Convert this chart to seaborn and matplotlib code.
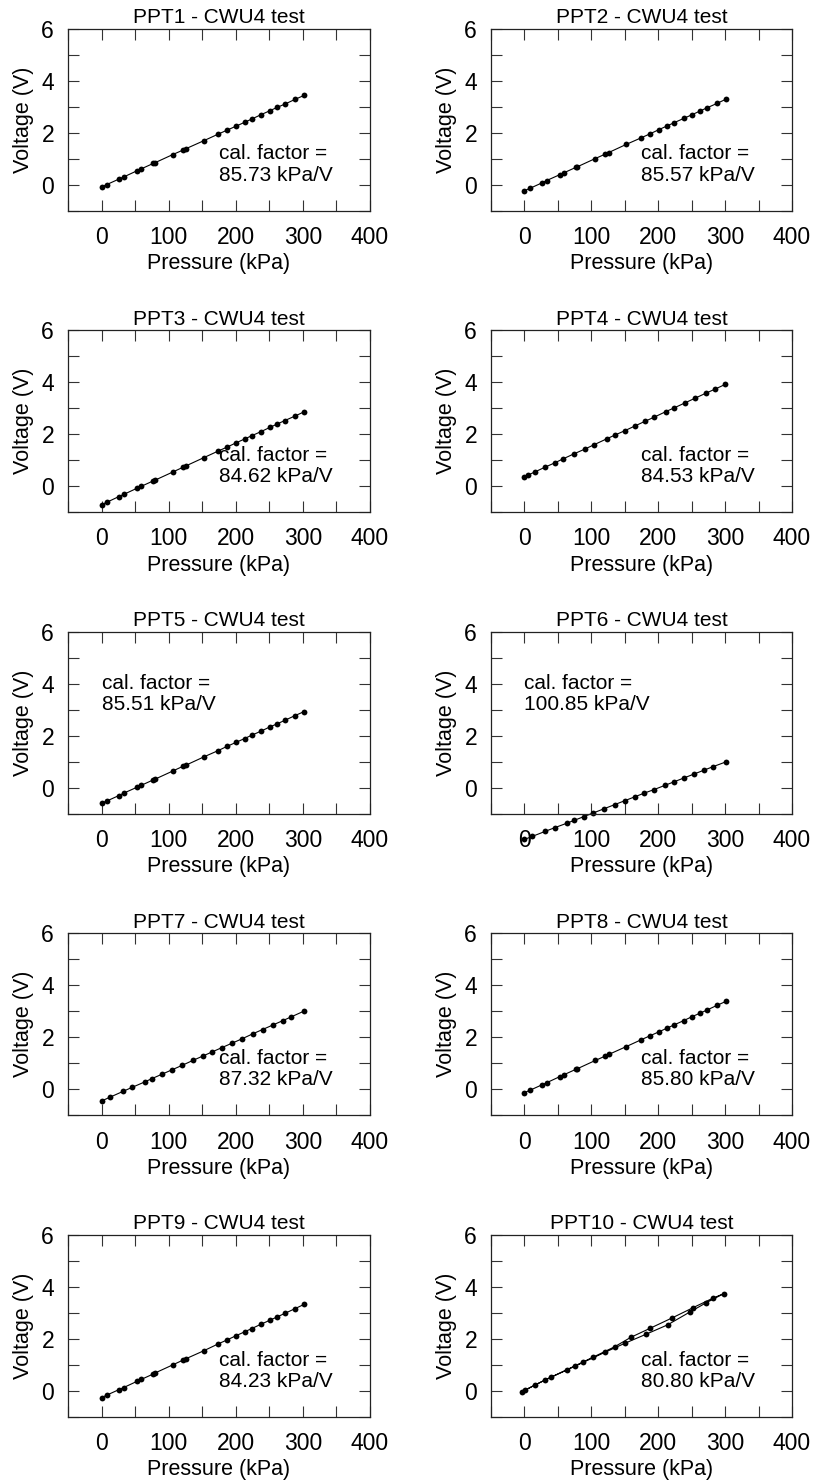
import matplotlib
matplotlib.use("Agg")
import matplotlib.pyplot as plt
import seaborn as sns

# Pressure steps (kPa) used by the different test runs
p_paired = [0, 8, 26, 33, 53, 59, 77, 79, 106, 121, 126, 152, 174, 187, 201,
            213, 224, 238, 251, 262, 273, 288, 302]
p_ppt4 = [0, 6, 16, 31, 45, 58, 74, 90, 104, 124, 135, 150, 165, 180, 193,
          211, 224, 240, 255, 271, 285, 300]
p_ppt6 = [0, 12, 31, 45, 63, 74, 89, 103, 119, 135, 150, 165, 179, 194, 210,
          224, 239, 254, 269, 282, 301]
p_ppt7 = [0, 12, 32, 46, 64, 75, 90, 105, 120, 136, 151, 165, 179, 195, 210,
          225, 240, 255, 270, 283, 301]
p_ppt10 = [-4, 16, 39, 76, 102, 135, 159, 188, 221, 252, 282, 298,
           271, 247, 214, 181, 150, 120, 88, 64, 30, 1.5]

# Transducer output voltages (V)
v_ppt1 = [-0.09, 0.00, 0.21, 0.29, 0.53, 0.60, 0.81, 0.83, 1.15, 1.32, 1.38,
          1.68, 1.94, 2.09, 2.25, 2.39, 2.52, 2.69, 2.84, 2.97, 3.09, 3.27, 3.43]
v_ppt2 = [-0.24, -0.15, 0.06, 0.15, 0.38, 0.45, 0.66, 0.68, 1.00, 1.17, 1.23,
          1.54, 1.79, 1.94, 2.11, 2.25, 2.38, 2.54, 2.69, 2.82, 2.95, 3.12, 3.29]
v_ppt3 = [-0.71, -0.62, -0.40, -0.32, -0.08, -0.01, 0.20, 0.22, 0.54, 0.72, 0.78,
          1.09, 1.35, 1.50, 1.67, 1.81, 1.94, 2.10, 2.26, 2.39, 2.52, 2.69, 2.86]
v_ppt4 = [0.36, 0.43, 0.55, 0.73, 0.89, 1.05, 1.24, 1.42, 1.59, 1.83, 1.96,
          2.13, 2.31, 2.49, 2.64, 2.86, 3.01, 3.20, 3.38, 3.57, 3.73, 3.91]
v_ppt5 = [-0.60, -0.51, -0.30, -0.21, 0.02, 0.09, 0.30, 0.32, 0.64, 0.82, 0.87,
          1.18, 1.43, 1.59, 1.75, 1.89, 2.02, 2.18, 2.34, 2.46, 2.59, 2.77, 2.93]
v_ppt6 = [-1.99, -1.87, -1.68, -1.54, -1.37, -1.26, -1.11, -0.97, -0.81, -0.65,
          -0.50, -0.35, -0.21, -0.07, 0.09, 0.23, 0.38, 0.53, 0.68, 0.81, 0.99]
v_ppt7 = [-0.45, -0.31, -0.08, 0.08, 0.28, 0.41, 0.58, 0.75, 0.92, 1.11, 1.28,
          1.44, 1.60, 1.78, 1.95, 2.13, 2.30, 2.47, 2.64, 2.79, 3.00]
v_ppt8 = [-0.13, -0.04, 0.17, 0.25, 0.49, 0.56, 0.77, 0.79, 1.11, 1.28, 1.34,
          1.64, 1.90, 2.05, 2.21, 2.35, 2.48, 2.64, 2.80, 2.92, 3.05, 3.23, 3.39]
v_ppt9 = [-0.26, -0.16, 0.05, 0.13, 0.37, 0.44, 0.65, 0.68, 1.00, 1.18, 1.24,
          1.54, 1.81, 1.96, 2.13, 2.27, 2.40, 2.57, 2.72, 2.85, 2.98, 3.16, 3.33]
v_ppt10 = [-0.04, 0.23, 0.52, 0.97, 1.29, 1.70, 2.06, 2.41, 2.81, 3.20, 3.57, 3.74,
           3.38, 3.03, 2.54, 2.17, 1.83, 1.48, 1.10, 0.81, 0.41, 0.04]

names = ["PPT1", "PPT2", "PPT3", "PPT4", "PPT5", "PPT6", "PPT7", "PPT8", "PPT9", "PPT10"]
pressures = [p_paired, p_paired, p_paired, p_ppt4, p_paired,
             p_ppt6, p_ppt7, p_paired, p_paired, p_ppt10]
voltages = [v_ppt1, v_ppt2, v_ppt3, v_ppt4, v_ppt5,
            v_ppt6, v_ppt7, v_ppt8, v_ppt9, v_ppt10]
cal_factors = ["85.73", "85.57", "84.62", "84.53", "85.51",
               "100.85", "87.32", "85.80", "84.23", "80.80"]
note_upper_left = [False, False, False, False, True, True, False, False, False, False]

x_ticks = [-50, 0, 50, 100, 150, 200, 250, 300, 350, 400]
x_ticklabels = ["", "0", "", "100", "", "200", "", "300", "", "400"]
y_ticks = [-1, 0, 1, 2, 3, 4, 5, 6]
y_ticklabels = ["", "0", "", "2", "", "4", "", "6"]

sns.set_style("ticks")
plt.rcParams["font.family"] = ["Liberation Sans", "DejaVu Sans"]
plt.rcParams["text.color"] = "black"
plt.rcParams["axes.labelcolor"] = "black"

W, H = 815, 1482
fig = plt.figure(figsize=(W / 100, H / 100), dpi=100)

col_left = [68, 491]
col_width = [302, 301]
row_top0, row_pitch, ax_h = 28.5, 301.6, 182

for i, name in enumerate(names):
    r, c = divmod(i, 2)
    top = row_top0 + r * row_pitch
    ax = fig.add_axes([col_left[c] / W, 1 - (top + ax_h) / H,
                       col_width[c] / W, ax_h / H])
    sns.lineplot(x=pressures[i], y=voltages[i], ax=ax, sort=False, estimator=None,
                 color="black", linewidth=0.8, marker="o", markersize=4.2,
                 markeredgewidth=0, clip_on=False)
    ax.set_xlim(-50, 400)
    ax.set_ylim(-1, 6)
    ax.set_xticks(x_ticks)
    ax.set_xticklabels(x_ticklabels)
    ax.set_yticks(y_ticks)
    ax.set_yticklabels(y_ticklabels)
    ax.tick_params(direction="in", length=8, width=0.8, color="#333333",
                   top=True, right=True, labelsize=16.5, labelcolor="black")
    ax.tick_params(axis="x", pad=11)
    ax.tick_params(axis="y", pad=10)
    for s in ax.spines.values():
        s.set_color("#222222")
        s.set_linewidth(0.9)
    ax.set_xlabel("Pressure (kPa)", fontsize=15.5, labelpad=3)
    ax.set_ylabel("Voltage (V)", fontsize=15.5, labelpad=5)
    ax.set_title(f"{name} - CWU4 test", fontsize=15, pad=4)
    if note_upper_left[i]:
        tx, ty = 0, 2.99
    else:
        tx, ty = 175, 0.15
    ax.text(tx, ty, f"cal. factor =\n{cal_factors[i]} kPa/V", fontsize=15,
            ha="left", va="baseline", linespacing=1.15)

fig.savefig("out.png", dpi=100, facecolor="white")
